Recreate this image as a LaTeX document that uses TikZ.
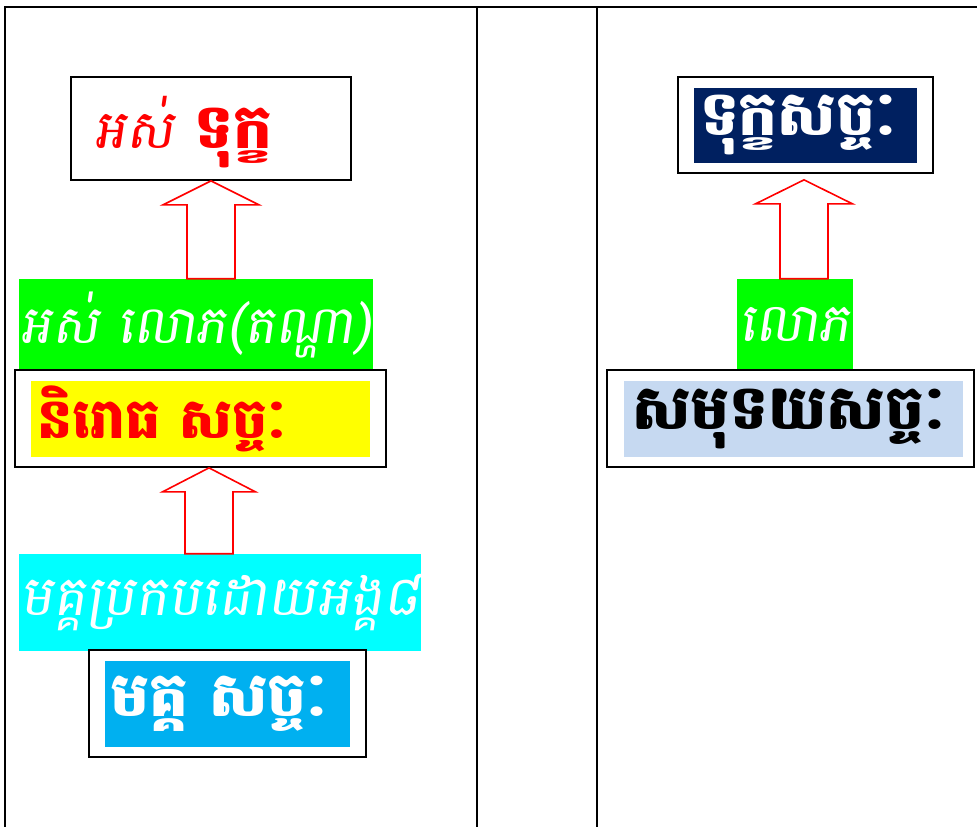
\documentclass[tikz,border=0pt]{standalone}
\usepackage{fontspec}
\usetikzlibrary{positioning,calc}
\newfontfamily\khmer[Script=Khmer]{Battambang}
\newfontfamily\khmerthin[Script=Khmer,FakeSlant=0.15]{Battambang}
\definecolor{limebg}{RGB}{0,255,0}
\definecolor{yellowbg}{RGB}{255,255,0}
\definecolor{cyanbg}{RGB}{0,255,255}
\definecolor{skybg}{RGB}{0,176,240}
\definecolor{navybg}{RGB}{0,32,96}
\definecolor{palebg}{RGB}{198,217,241}
\tikzset{
  frame/.style={draw=black,line width=1.3pt,fill=white,inner sep=0pt},
  band/.style={inner sep=0pt,text=white,font=\khmerthin\fontsize{40}{44}\selectfont},
  patch/.style={inner sep=0pt},
  tagtext/.style={inner sep=0pt,anchor=west,font=\khmer\bfseries\fontsize{46}{50}\selectfont},
  hollow/.style={draw=red,line width=1.2pt,fill=white,line join=miter},
  rule/.style={line width=1.5pt}
}
% block arrow pointing up: #1 tip, #2 lower node, #3 half head width (px)
\newcommand{\upblock}[3]{%
  \draw[hollow] (#1) -- ++(#3,24) -- ++({24-#3},0) coordinate (hr)
    -- (hr |- #2.north) -- ++(-48,0) coordinate (bl)
    -- (bl |- hr) -- ++({24-#3},0) -- cycle;}

\begin{document}
\begin{tikzpicture}[x=0.75pt,y=-0.75pt]
  \useasboundingbox (0,0) rectangle (977,827);

  % table
  \draw[rule] (5,827) -- (5,7) -- (977,7);
  \draw[rule] (477,7) -- (477,827);
  \draw[rule] (597,7) -- (597,827);

  % left column
  \node[frame,minimum width=210pt,minimum height=77.25pt] (doubt) at (211,128.5) {};
  \node[tagtext,right=18pt of doubt.west,yshift=-3pt,text=red]
    {{\khmerthin\mdseries\fontsize{40}{44}\selectfont អស់} ទុក្ខ};

  \node[band,fill=limebg,minimum width=265.5pt,minimum height=68.25pt,font=\khmerthin\fontsize{39.5}{44}\selectfont] (craveL) at (196,324.5) {អស់ លោភ(តណ្ហា)};

  \node[frame,minimum width=278.25pt,minimum height=72.75pt] (cessframe) at (200.5,418.5) {};
  \node[patch,fill=yellowbg,minimum width=254.25pt,minimum height=57pt] (cess) at (200.5,419) {};
  \node[tagtext,right=5pt of cess.west,text=red,font=\khmer\bfseries\fontsize{41.5}{46}\selectfont] {និរោធ សច្ចៈ};

  \node[band,fill=cyanbg,minimum width=301.5pt,minimum height=72.75pt,font=\khmerthin\fontsize{41.5}{45}\selectfont] (eightfold) at (220,602.5) {មគ្គប្រកបដោយអង្គ៨};

  \node[frame,minimum width=207.75pt,minimum height=80.25pt] (pathframe) at (227.5,703.5) {};
  \node[patch,fill=skybg,minimum width=183.75pt,minimum height=64.5pt] (path) at (227.5,704) {};
  \node[tagtext,right=4pt of path.west,text=white] {មគ្គ សច្ចៈ};

  % right column
  \node[frame,minimum width=191.25pt,minimum height=72pt] (sufferframe) at (805.5,125) {};
  \node[patch,fill=navybg,minimum width=167.25pt,minimum height=56.25pt] (suffer) at (805.5,125.5) {};
  \node[tagtext,right=4.5pt of suffer.west,text=white] {ទុក្ខសច្ចៈ};

  \node[band,fill=limebg,minimum width=87pt,minimum height=67.5pt] (craveR) at (795,324) {លោភ};

  \node[frame,minimum width=275.25pt,minimum height=72.75pt] (originframe) at (790.5,418.5) {};
  \node[patch,fill=palebg,minimum width=254.25pt,minimum height=57pt] (origin) at (793.5,419) {};
  \node[tagtext,right=6pt of origin.west,text=black] {សមុទយសច្ចៈ};

  % arrows
  \upblock{doubt.south}{craveL}{48}
  \upblock{$(cessframe.south)+(8.5,0)$}{eightfold}{46.5}
  \upblock{$(sufferframe.south)+(-1.5,6)$}{craveR}{48.5}
\end{tikzpicture}
\end{document}
